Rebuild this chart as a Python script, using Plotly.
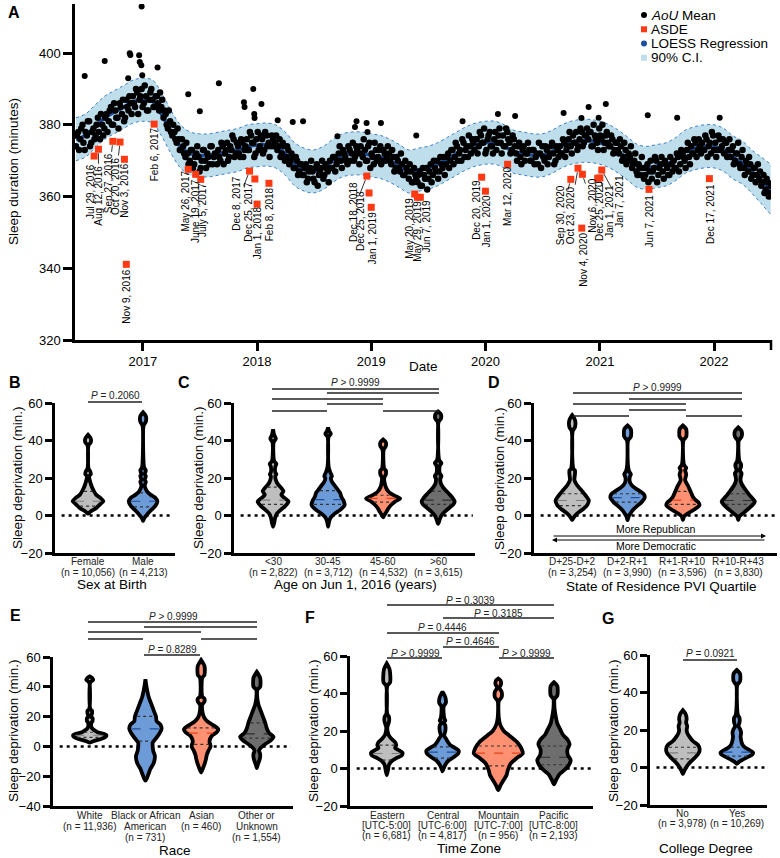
import plotly.graph_objects as go
import pandas as pd
import numpy as np

W, H = 780, 858
FONT = "Arial, Liberation Sans, sans-serif"


def X(p):
    return p / W


def Y(p):
    return 1 - p / H


# ======================= Panel A data =======================
# LOESS regression and 90% CI, monthly from Jun 2016 to Jul 2022
loess_vals = [376, 377, 379.5, 382, 383.5, 385, 386.5,
              387, 386.5, 383, 378, 374, 372, 371.5, 371.5, 372, 372.5, 373, 374,
              374.3, 374.5, 374, 372, 369, 367.5, 367, 368, 370, 371.5, 372, 372,
              371.5, 371, 370, 368.5, 367, 367.5, 368, 369, 370.5, 372, 373.5, 374.5,
              375, 375, 374, 372.5, 372, 371.5, 371.5, 372.5, 374, 375, 375.5, 375.5,
              375, 374, 372.5, 370.5, 368.5, 368, 368.5, 369, 370.5, 372.5, 373.5, 374,
              374, 373, 371, 369.5, 367, 364.5, 362]
ci_high = [382, 383, 385.5, 388, 389.5, 391, 392.5,
           393, 392.5, 389, 384, 380, 378, 377.5, 377.5, 378, 378.5, 379, 380,
           380.3, 380.5, 380, 378, 375, 373.5, 373, 374, 376, 377.5, 378, 378,
           377.5, 377, 376, 374.5, 373, 373.5, 374, 375, 376.5, 378, 379.5, 380.5,
           381, 381, 380, 378.5, 378, 377.5, 377.5, 378.5, 380, 381, 381.5, 381.5,
           381, 380, 378.5, 376.5, 374.5, 374, 374.5, 375, 376.5, 378.5, 379.5, 380,
           380, 379, 377, 375.5, 373, 371, 369]
ci_low = [370, 371, 373.5, 376, 377.5, 379, 380.5,
          381, 380.5, 377, 372, 368, 366, 365.5, 365.5, 366, 366.5, 367, 368,
          368.3, 368.5, 368, 366, 363, 361.5, 361, 362, 364, 365.5, 366, 366,
          365.5, 365, 364, 362.5, 361, 361.5, 362, 363, 364.5, 366, 367.5, 368.5,
          369, 369, 368, 366.5, 366, 365.5, 365.5, 366.5, 368, 369, 369.5, 369.5,
          369, 368, 366.5, 364.5, 362.5, 362, 362.5, 363, 364.5, 366.5, 367.5, 368,
          368, 367, 365, 363.5, 361, 358, 355]

# AoU mean sleep duration, two readings per week (from 1 Jun and 4 Jun 2016)
aou_mean_a = [
    374, 378, 376, 380, 373, 377, 381, 375, 379, 377, 382, 376, 380,
    379, 383, 381, 385, 380, 384, 382, 386, 383, 381, 387, 384, 386,
    388, 385, 389, 387, 390, 386, 388, 384, 389, 387, 385, 388, 384,
    385, 382, 383, 379, 381, 377, 378, 375, 376, 373, 374, 371, 372,
    370, 373, 369, 372, 371, 368, 373, 370, 372, 369, 374, 371, 372,
    373, 370, 374, 372, 375, 371, 373, 376, 372, 374, 371, 375, 373,
    376, 373, 377, 375, 372, 378, 374, 376, 373, 377, 375, 374, 376,
    375, 373, 376, 372, 374, 371, 373, 370, 371, 368, 370, 367, 369,
    366, 369, 365, 368, 367, 364, 369, 366, 368, 365, 369, 367, 370,
    368, 371, 369, 372, 370, 373, 371, 369, 373, 372, 370, 374, 372,
    374, 371, 373, 370, 375, 372, 369, 373, 371, 374, 370, 372, 371,
    372, 369, 371, 368, 370, 367, 369, 366, 368, 365, 367, 364, 366,
    364, 367, 363, 366, 368, 365, 369, 366, 368, 370, 367, 369, 371,
    369, 372, 370, 373, 371, 374, 372, 370, 375, 373, 371, 374, 376,
    373, 376, 374, 377, 375, 372, 376, 378, 374, 376, 373, 377, 375,
    377, 374, 378, 375, 373, 376, 372, 374, 371, 373, 370, 372, 373,
    370, 373, 371, 369, 372, 374, 370, 373, 371, 374, 372, 370, 373,
    374, 372, 375, 373, 376, 374, 377, 375, 373, 376, 378, 375, 377,
    376, 378, 374, 377, 375, 379, 376, 373, 377, 375, 374, 376, 373,
    375, 372, 374, 371, 373, 370, 371, 368, 370, 367, 369, 366, 368,
    366, 369, 367, 365, 368, 370, 366, 369, 367, 370, 368, 366, 369,
    370, 368, 371, 369, 372, 370, 373, 371, 374, 372, 375, 373, 374,
    375, 373, 376, 374, 372, 377, 375, 373, 376, 374, 372, 375, 373,
    371, 374, 370, 372, 369, 371, 368, 370, 367, 369, 366, 368, 366,
    365, 363, 366, 362, 364, 361]
aou_mean_b = [
    377, 373, 379, 375, 378, 381, 374, 378, 376, 380, 378, 383, 377,
    382, 378, 384, 380, 386, 382, 379, 385, 387, 382, 385, 388, 383,
    386, 390, 383, 388, 385, 391, 384, 387, 390, 385, 388, 386, 389,
    387, 384, 380, 384, 378, 380, 376, 379, 373, 376, 372, 375, 369,
    373, 368, 371, 374, 367, 370, 373, 368, 371, 374, 369, 372, 369,
    371, 375, 369, 373, 370, 374, 377, 371, 375, 372, 376, 371, 374,
    373, 378, 375, 371, 376, 373, 377, 372, 378, 374, 371, 377, 374,
    377, 374, 371, 375, 370, 374, 369, 372, 368, 371, 366, 369, 366,
    368, 364, 367, 370, 365, 368, 363, 367, 370, 366, 368, 364, 368,
    371, 367, 370, 374, 368, 372, 370, 374, 370, 375, 371, 373, 369,
    372, 376, 370, 374, 368, 371, 375, 370, 373, 369, 373, 370, 374,
    370, 373, 367, 371, 368, 372, 366, 370, 367, 369, 364, 368, 365,
    366, 363, 368, 365, 362, 367, 364, 370, 367, 365, 371, 368, 366,
    371, 368, 373, 369, 375, 370, 373, 376, 371, 374, 377, 372, 375,
    376, 372, 378, 375, 379, 373, 377, 374, 372, 378, 375, 379, 372,
    374, 379, 376, 372, 377, 374, 370, 375, 369, 374, 372, 375, 370,
    373, 369, 372, 375, 368, 371, 374, 369, 372, 375, 369, 374, 371,
    372, 376, 371, 374, 378, 372, 375, 378, 374, 379, 374, 377, 379,
    378, 374, 380, 376, 373, 377, 380, 375, 378, 374, 377, 372, 375,
    373, 376, 370, 375, 369, 372, 374, 369, 372, 366, 368, 371, 365,
    368, 364, 370, 367, 371, 364, 368, 371, 365, 369, 366, 371, 367,
    368, 372, 367, 373, 371, 368, 375, 369, 372, 376, 371, 376, 372,
    373, 377, 371, 375, 378, 373, 371, 377, 373, 376, 375, 371, 376,
    373, 369, 372, 375, 368, 373, 366, 369, 371, 365, 368, 364, 369,
    367, 364, 361, 365, 360, 363]

outlier_dates = ["2016-06-29", "2016-09-01", "2016-11-15", "2016-11-20", "2016-11-22",
                 "2016-12-20", "2016-12-22", "2016-12-27", "2016-12-28", "2016-12-30",
                 "2017-02-17", "2017-05-26", "2017-07-02", "2017-09-01", "2017-11-20",
                 "2017-11-22", "2017-12-20", "2017-12-23", "2017-12-24", "2018-01-15",
                 "2018-03-08", "2018-04-25", "2018-05-28", "2018-09-15", "2018-11-10",
                 "2018-11-15", "2018-12-17", "2018-12-20", "2019-02-01", "2019-05-25",
                 "2019-10-20", "2020-02-10", "2020-04-05", "2020-09-07", "2020-11-03",
                 "2020-11-26", "2020-12-28", "2021-01-20", "2021-06-03", "2021-09-05",
                 "2022-01-19"]
outlier_vals = [393.6, 397.8, 393, 400, 399.5,
                399.4, 397.5, 396.6, 413, 393.8,
                396, 388.5, 383.8, 391.6, 386.3,
                385, 390, 383, 381.9, 385.8,
                381.3, 380.8, 381, 376.8, 379.4,
                381, 380.5, 378, 380.5, 377,
                381, 383, 382.5, 383.3, 381.9,
                385, 382, 385.8, 382.7, 382,
                382]

asde_dates = ["2016-07-29", "2016-08-12", "2016-09-27", "2016-10-20", "2016-11-03",
              "2016-11-09", "2017-02-06", "2017-05-26", "2017-06-19", "2017-07-05",
              "2017-12-08", "2017-12-25", "2018-01-01", "2018-02-08", "2018-12-18",
              "2018-12-25", "2019-01-01", "2019-05-20", "2019-05-29", "2019-06-07",
              "2019-12-20", "2020-01-01", "2020-03-12", "2020-09-30", "2020-10-23",
              "2020-11-04", "2020-11-06", "2020-12-25", "2021-01-01", "2021-01-07",
              "2021-06-07", "2021-12-17"]
asde_vals = [371.3, 373.2, 375.4, 375.2, 370.4,
             341.1, 380.2, 367.6, 366.2, 364.8,
             367.1, 364.9, 357.9, 363.7, 365.7,
             361.0, 357.0, 360.7, 359.8, 359.8,
             365.4, 361.5, 369.0, 364.8, 367.9,
             351.2, 366.2, 365.1, 365.2, 367.4,
             362.0, 365.0]
asde_labels = ["Jul 29, 2016", "Aug 12, 2016", "Sep 27, 2016", "Oct 20, 2016", "Nov 3, 2016",
               "Nov 9, 2016", "Feb 6, 2017", "May 26, 2017", "June 19, 2017", "July 5, 2017",
               "Dec 8, 2017", "Dec 25, 2017", "Jan 1, 2018", "Feb 8, 2018", "Dec 18, 2018",
               "Dec 25, 2018", "Jan 1, 2019", "May 20, 2019", "May 29, 2019", "Jun 7, 2019",
               "Dec 20, 2019", "Jan 1, 2020", "Mar 12, 2020", "Sep 30, 2020", "Oct 23, 2020",
               "Nov 4, 2020", "Nov 6, 2020", "Dec 25, 2020", "Jan 1, 2021", "Jan 7, 2021",
               "Jun 7, 2021", "Dec 17, 2021"]
# label placement (pixel offset of label centre from its square, leader line flag)
asde_label_style = [(-4, 36, 0), (0, 46, 1), (-5, 42, 1), (-5, 44, 1), (0, 31, 0),
                    (0, 32, 0), (0, 30, 0), (-3, 32, 0), (0, 37, 0), (2, 31, 0),
                    (-13, 33, 1), (-6, 33, 0), (0, 29, 0), (0, 31, 0), (-14, 36, 1),
                    (-8, 28, 1), (1, 31, 0), (-6, 34, 0), (0, 34, 0), (6, 29, 0),
                    (-5, 33, 0), (1, 30, 0), (0, 32, 0), (-10, 36, 1), (-8, 47, 1),
                    (1, 32, 0), (10, 31, 1), (2, 33, 0), (10, 33, 1), (17, 31, 1),
                    (0, 32, 0), (1, 35, 0)]

year_ticks = ["2017-01-01", "2018-01-01", "2019-01-01", "2020-01-01", "2021-01-01", "2022-01-01"]
year_labels = ["2017", "2018", "2019", "2020", "2021", "2022"]
a_yticks = [320, 340, 360, 380, 400]

# ======================= Violin panels data =======================
# each profile: (sleep deprivation level, half-width in category units)
female_prof = [(1, 0), (2, 0.04), (4, 0.15), (6, 0.22), (7.6, 0.28), (9.5, 0.22), (11, 0.15),
               (14, 0.09), (16, 0.06), (19, 0.03), (21, 0.02), (22, 0.05), (23.5, 0.04),
               (25, 0.01), (37.5, 0.01), (39, 0.05), (41, 0.05), (43, 0)]
male_prof = [(-3, 0), (-1.5, 0.02), (0, 0.06), (1.5, 0.1), (3, 0.15), (5, 0.22), (7.5, 0.26),
             (9.5, 0.22), (11, 0.14), (12.5, 0.08), (14, 0.05), (16, 0.03), (18, 0.05),
             (19, 0.03), (21, 0.05), (22, 0.03), (24, 0.05), (25.5, 0.02), (28, 0.01),
             (48, 0.01), (50, 0.05), (53, 0.05), (55, 0)]
c_lt30_prof = [(-6, 0), (-4, 0.02), (-1, 0.04), (1, 0.07), (3, 0.14), (5, 0.22), (7.5, 0.28),
               (9.5, 0.2), (11, 0.15), (13, 0.19), (15, 0.14), (17, 0.08), (19, 0.05),
               (21, 0.04), (22, 0.06), (23, 0.04), (26, 0.04), (27.5, 0.06), (29, 0.02),
               (39, 0.01), (41, 0.05), (43, 0.02), (46, 0)]
c_3045_prof = [(-6, 0), (-3, 0.02), (-1, 0.05), (1, 0.12), (3, 0.22), (5.5, 0.3), (8, 0.28),
               (10, 0.24), (12, 0.22), (14, 0.17), (16, 0.12), (18, 0.07), (20, 0.05),
               (21, 0.07), (23, 0.04), (26, 0.01), (42, 0.01), (43.5, 0.05), (45, 0.02), (47, 0)]
c_4560_prof = [(-1, 0), (0.5, 0.03), (2, 0.06), (4, 0.1), (6, 0.16), (7.5, 0.22), (9, 0.31),
               (10, 0.25), (11.5, 0.15), (13, 0.09), (15, 0.05), (17, 0.03), (20, 0.02),
               (22, 0.05), (24, 0.05), (25, 0.02), (35, 0.01), (37, 0.05), (39, 0.05), (40.5, 0)]
c_gt60_prof = [(-4.5, 0), (-2, 0.03), (0, 0.06), (2, 0.12), (4, 0.2), (6, 0.28), (7.5, 0.3),
               (9.5, 0.26), (11.5, 0.2), (13, 0.15), (15, 0.09), (17, 0.05), (19.5, 0.04),
               (21, 0.06), (22.5, 0.03), (26.5, 0.03), (28, 0.06), (29.5, 0.02), (50, 0.01),
               (51.5, 0.05), (54, 0.05), (55.5, 0)]
d_q1_prof = [(-2.5, 0), (-1, 0.03), (0.5, 0.07), (2, 0.13), (3.5, 0.2), (5.5, 0.27), (8, 0.3),
             (10, 0.26), (11.5, 0.22), (13, 0.18), (15, 0.12), (17, 0.07), (19, 0.04),
             (22, 0.05), (24, 0.05), (25, 0.02), (45, 0.01), (47, 0.05), (51, 0.05), (53.5, 0)]
d_q2_prof = [(-2.5, 0), (-0.5, 0.02), (1, 0.05), (3, 0.1), (5, 0.17), (7, 0.25), (9.5, 0.31),
             (11.5, 0.29), (13, 0.22), (14.5, 0.14), (16, 0.08), (18, 0.04), (20.5, 0.04),
             (22, 0.06), (23.5, 0.03), (26, 0.01), (40, 0.01), (42, 0.06), (46, 0.06), (48, 0)]
d_q3_prof = [(-2.5, 0), (-0.5, 0.02), (0.5, 0.06), (2, 0.14), (3.5, 0.22), (5.5, 0.3), (7, 0.28),
             (8.5, 0.22), (10, 0.18), (12, 0.15), (14, 0.12), (16, 0.09), (17.5, 0.06),
             (19, 0.04), (20.5, 0.05), (22, 0.06), (24, 0.04), (25.5, 0.06), (27, 0.02),
             (40, 0.01), (42, 0.06), (46, 0.06), (48, 0)]
d_q4_prof = [(-2.5, 0), (-0.5, 0.02), (0.5, 0.06), (2, 0.12), (4, 0.2), (6, 0.27), (7.5, 0.3),
             (9, 0.26), (11, 0.2), (13, 0.15), (15, 0.1), (17, 0.06), (19, 0.04), (21, 0.05),
             (22.5, 0.06), (24, 0.03), (26, 0.05), (27.5, 0.05), (29, 0.02), (40, 0.01),
             (42, 0.06), (45, 0.06), (47, 0)]
e_white_prof = [(2.5, 0), (3.5, 0.06), (5, 0.2), (6.5, 0.29), (7.5, 0.3), (8.5, 0.25),
                (9.5, 0.14), (10.5, 0.1), (11.5, 0.06), (13, 0.03), (16, 0.03), (17, 0.05),
                (19, 0.05), (20, 0.02), (22, 0.04), (24, 0.04), (25, 0.01), (43, 0.01),
                (44.5, 0.06), (46, 0.04), (47, 0)]
e_black_prof = [(-23, 0), (-21, 0.03), (-18, 0.06), (-15, 0.09), (-11, 0.15), (-6.5, 0.17),
                (-3, 0.14), (0, 0.13), (2.5, 0.13), (5, 0.18), (8, 0.24), (12, 0.29),
                (14.5, 0.27), (17, 0.2), (20, 0.19), (24, 0.15), (29, 0.1), (33, 0.06),
                (37, 0.035), (41, 0.015), (45, 0)]
e_asian_prof = [(-17.5, 0), (-15, 0.03), (-12, 0.06), (-8, 0.09), (-6, 0.1), (-3, 0.13),
                (0, 0.17), (3.5, 0.15), (7, 0.19), (9.5, 0.28), (11.5, 0.31), (13.5, 0.25),
                (16.5, 0.12), (19, 0.06), (22, 0.03), (28, 0.02), (30, 0.06), (32, 0.06),
                (33.5, 0.02), (46, 0.02), (48, 0.06), (54, 0.06), (58, 0)]
e_other_prof = [(-14.5, 0), (-12, 0.02), (-9, 0.05), (-7, 0.06), (-5, 0.06), (-3, 0.04),
                (-1, 0.07), (1.5, 0.15), (4, 0.25), (6.5, 0.3), (9, 0.22), (12, 0.18),
                (16, 0.15), (20, 0.11), (24, 0.07), (28, 0.03), (32, 0.01), (38, 0.01),
                (40, 0.06), (46, 0.06), (50, 0)]
f_east_prof = [(-3.5, 0), (-1, 0.02), (2, 0.04), (4, 0.09), (5.5, 0.17), (7, 0.27), (8.5, 0.28),
               (10, 0.2), (11, 0.15), (12.5, 0.17), (14, 0.15), (16, 0.08), (18, 0.03),
               (22, 0.01), (25, 0.04), (27.5, 0.04), (29, 0.01), (44, 0.01), (46, 0.06),
               (53, 0.05), (56, 0)]
f_central_prof = [(-1.5, 0), (0, 0.02), (2, 0.05), (4, 0.1), (6, 0.2), (8, 0.28), (9.5, 0.29),
                  (11, 0.22), (12.5, 0.14), (14, 0.1), (16, 0.06), (17.5, 0.03), (20, 0.05),
                  (23, 0.05), (24.5, 0.02), (25.5, 0.05), (27, 0.03), (33, 0.02), (35, 0.06),
                  (38, 0.05), (41, 0)]
f_mountain_prof = [(-11.5, 0), (-9, 0.04), (-6, 0.1), (-3.5, 0.15), (-1, 0.17), (2.5, 0.22),
                   (5.5, 0.33), (8, 0.44), (11, 0.41), (14, 0.34), (17.5, 0.2), (20, 0.1),
                   (23, 0.04), (27, 0.01), (36, 0.01), (38, 0.06), (41, 0.06), (43, 0.02),
                   (45, 0.05), (47, 0.04), (48, 0)]
f_pacific_prof = [(-8.5, 0), (-6, 0.04), (-3, 0.1), (-0.5, 0.2), (2, 0.27), (4.5, 0.3), (7, 0.25),
                  (10, 0.24), (13, 0.28), (15.5, 0.24), (18, 0.16), (21, 0.11), (24, 0.06),
                  (28, 0.03), (32, 0.01), (37, 0.01), (39, 0.06), (44, 0.06), (46, 0)]
g_no_prof = [(-3.5, 0), (-1.5, 0.03), (0.5, 0.07), (3, 0.14), (5.5, 0.23), (8, 0.3), (10, 0.31),
             (12, 0.28), (14, 0.19), (16.5, 0.12), (18.5, 0.08), (20, 0.07), (22, 0.08),
             (24, 0.06), (26, 0.07), (28.5, 0.05), (30.5, 0)]
g_yes_prof = [(2, 0), (3, 0.04), (4, 0.1), (5.5, 0.2), (7, 0.29), (8, 0.3), (9.5, 0.22), (11, 0.14),
              (12.5, 0.1), (14.5, 0.08), (16.5, 0.07), (18.5, 0.08), (20.5, 0.06), (22, 0.03),
              (24, 0.05), (26.5, 0.05), (28, 0.02), (44, 0.01), (46, 0.06), (50, 0.06), (52, 0)]

# quartiles (Q1, median, Q3)
female_q = (5.0, 7.6, 12.9)
male_q = (4.6, 7.6, 12.1)
c_q = [(5.9, 8.2, 15.1), (5.9, 8.5, 13.3), (7.1, 9.1, 10.8), (5.9, 8.2, 12.9)]
d_q = [(5.3, 8.0, 11.6), (7.1, 9.5, 11.6), (5.9, 8.2, 12.9), (5.9, 8.0, 11.6)]
e_q = [(6.0, 7.5, 9.5), (3.6, 11.8, 20.2), (1.3, 8.9, 12.4), (5.6, 8.4, 15.8)]
f_q = [(4.5, 8.0, 12.5), (5.5, 8.7, 11.5), (1.4, 8.2, 12.0), (2.0, 6.0, 12.0)]
g_q = [(4.6, 7.8, 10.8), (6.1, 8.2, 10.8)]

b_cats = [["Female", "(n = 10,056)"], ["Male", "(n = 4,213)"]]
c_cats = [["<30", "(n = 2,822)"], ["30-45", "(n = 3,712)"], ["45-60", "(n = 4,532)"],
          [">60", "(n = 3,615)"]]
d_cats = [["D+25-D+2", "(n = 3,254)"], ["D+2-R+1", "(n = 3,990)"], ["R+1-R+10", "(n = 3,596)"],
          ["R+10-R+43", "(n = 3,830)"]]
e_cats = [["White", "(n = 11,936)"], ["Black or African", "American", "(n = 731)"],
          ["Asian", "(n = 460)"], ["Other or", "Unknown", "(n = 1,554)"]]
f_cats = [["Eastern", "[UTC-5:00]", "(n = 6,681)"], ["Central", "[UTC-6:00]", "(n = 4,817)"],
          ["Mountain", "[UTC-7:00]", "(n = 956)"], ["Pacific", "[UTC-8:00]", "(n = 2,193)"]]
g_cats = [["No", "(n = 3,978)"], ["Yes", "(n = 10,269)"]]

# ======================= Styles =======================
GREY, BLUE, SALMON, DARK = "#BEBEBE", "#6C9BD8", "#FF9072", "#6E6E6E"
MED = {GREY: "#7D7D7D", BLUE: "#1F4E9E", SALMON: "#E8401A", DARK: "#2E2E2E"}
FOUR = [GREY, BLUE, SALMON, DARK]

fig = go.Figure()

# ---------------- Panel A ----------------
dates_m = pd.date_range("2016-06-01", periods=len(loess_vals), freq="MS")
dates_a = pd.date_range("2016-06-01", periods=len(aou_mean_a), freq="7D")
dates_b = pd.date_range("2016-06-04", periods=len(aou_mean_b), freq="7D")

fig.add_trace(go.Scatter(x=dates_m, y=ci_high, mode="lines",
                         line=dict(color="#3E80C4", width=1, dash="dot", shape="spline"),
                         xaxis="x", yaxis="y", hoverinfo="skip"))
fig.add_trace(go.Scatter(x=dates_m, y=ci_low, mode="lines", fill="tonexty", fillcolor="#BFDEEC",
                         line=dict(color="#3E80C4", width=1, dash="dot", shape="spline"),
                         xaxis="x", yaxis="y", hoverinfo="skip"))
fig.add_trace(go.Scatter(x=dates_m, y=loess_vals, mode="lines",
                         line=dict(color="#1C4F9E", width=3.5, shape="spline"),
                         xaxis="x", yaxis="y", hoverinfo="skip"))
for dd, vv in ((dates_a, aou_mean_a), (dates_b, aou_mean_b)):
    fig.add_trace(go.Scatter(x=dd, y=vv, mode="markers",
                             marker=dict(color="black", size=6.5, line=dict(width=0)),
                             xaxis="x", yaxis="y"))
fig.add_trace(go.Scatter(x=outlier_dates, y=outlier_vals, mode="markers",
                         marker=dict(color="black", size=6, line=dict(width=0)),
                         xaxis="x", yaxis="y"))
fig.add_trace(go.Scatter(x=asde_dates, y=asde_vals, mode="markers",
                         marker=dict(color="#FF3A12", size=7, symbol="square", line=dict(width=0)),
                         xaxis="x", yaxis="y"))

annotations = []
shapes = []

for d, v, lab, (dx, dy, lead) in zip(asde_dates, asde_vals, asde_labels, asde_label_style):
    annotations.append(dict(x=d, y=v, xref="x", yref="y", text=lab, textangle=-90,
                            showarrow=True, ax=dx, ay=dy, arrowhead=0, arrowwidth=0.8,
                            arrowcolor="black" if lead else "rgba(0,0,0,0)", standoff=4,
                            font=dict(size=10, color="black")))


def ptext(xx, yy, t, size, color="black", angle=0, xanchor="center"):
    """Text placed at a pixel position of the page (paper coordinates)."""
    annotations.append(dict(x=X(xx), y=Y(yy), xref="paper", yref="paper", text=t, showarrow=False,
                            xanchor=xanchor, yanchor="middle", textangle=angle, borderpad=0,
                            font=dict(size=size, color=color)))


# ---------------- violin helper ----------------
def add_violin(xa, ya, pos, prof, fill, quart):
    ys = [p[0] for p in prof]
    ws = [p[1] for p in prof]
    xs_out = [pos + w for w in ws] + [pos - w for w in ws[::-1]]
    ys_out = ys + ys[::-1]
    fig.add_trace(go.Scatter(x=xs_out, y=ys_out, mode="lines", fill="toself", fillcolor=fill,
                             line=dict(color="black", width=3.8, shape="spline", smoothing=0.7),
                             xaxis=xa, yaxis=ya, hoverinfo="skip"))
    for i, q in enumerate(quart):
        w = max(float(np.interp(q, ys, ws)) - 0.04, 0.01)
        fig.add_trace(go.Scatter(x=[pos - w, pos + w], y=[q, q], mode="lines",
                                 line=dict(color=MED[fill] if i == 1 else "#333333", width=1.2,
                                           dash="dash" if i == 1 else "dot"),
                                 xaxis=xa, yaxis=ya, hoverinfo="skip"))


panels = [
    # id, x px span, y px span, x range, y range, yticks, cats, label rows (px), profiles, quartiles, colors
    ("2", (55, 175), (403, 553), [-0.6, 1.58], [-20, 60], [-20, 0, 20, 40, 60], b_cats, (561, 11),
     [female_prof, male_prof], [female_q, male_q], [GREY, BLUE]),
    ("3", (234, 475), (403, 553), [-0.71, 3.67], [-20, 60], [-20, 0, 20, 40, 60], c_cats, (561, 11),
     [c_lt30_prof, c_3045_prof, c_4560_prof, c_gt60_prof], c_q, FOUR),
    ("4", (534, 777), (403, 553), [-0.69, 3.70], [-20, 60], [-20, 0, 20, 40, 60], d_cats, (561.5, 10.5),
     [d_q1_prof, d_q2_prof, d_q3_prof, d_q4_prof], d_q, FOUR),
    ("5", (53, 293), (657, 806), [-0.66, 3.65], [-40, 60], [-40, -20, 0, 20, 40, 60], e_cats, (815, 11),
     [e_white_prof, e_black_prof, e_asian_prof, e_other_prof], e_q, FOUR),
    ("6", (350, 593), (656, 806), [-0.66, 3.70], [-20, 60], [-20, 0, 20, 40, 60], f_cats, (815, 10.3),
     [f_east_prof, f_central_prof, f_mountain_prof, f_pacific_prof], f_q, FOUR),
    ("7", (650, 767), (655, 805), [-0.61, 1.56], [-20, 60], [-20, 0, 20, 40, 60], g_cats, (813, 10),
     [g_no_prof, g_yes_prof], g_q, [GREY, BLUE]),
]

layout = dict(width=W, height=H, margin=dict(l=0, r=0, t=0, b=0, autoexpand=False),
              paper_bgcolor="white", plot_bgcolor="white", showlegend=False,
              font=dict(family=FONT, color="black"))

axis_common = dict(showline=True, linewidth=2.5, linecolor="black", showgrid=False,
                   zeroline=False, tickcolor="black", automargin=False)

layout["xaxis"] = dict(axis_common, domain=[X(75), X(771)], anchor="y", type="date",
                       range=["2016-05-29", "2022-07-02"], tickvals=year_ticks,
                       ticktext=year_labels, ticks="outside", ticklen=8, tickwidth=2.5,
                       tickangle=0, tickfont=dict(size=13))
layout["yaxis"] = dict(axis_common, domain=[Y(340), Y(4)], anchor="x", range=[320, 413.7],
                       tickvals=a_yticks, ticks="outside", ticklen=9, tickwidth=2.5,
                       tickfont=dict(size=13))

for pid, xs, ysp, xr, yr, yt, cats, (row0, rowh), profs, qs, cols in panels:
    xa, ya = "x" + pid, "y" + pid
    layout["xaxis" + pid] = dict(axis_common, domain=[X(xs[0]), X(xs[1])], anchor=ya, range=xr,
                                 showticklabels=False, ticks="")
    layout["yaxis" + pid] = dict(axis_common, domain=[Y(ysp[1]), Y(ysp[0])], anchor=xa, range=yr,
                                 tickvals=yt, ticks="outside", ticklen=7, tickwidth=2.5,
                                 tickfont=dict(size=13))
    shapes.append(dict(type="line", xref=xa, yref=ya, x0=xr[0] + 0.12, x1=xr[1] - 0.04, y0=0, y1=0,
                       line=dict(color="black", width=2.5, dash="3px,4px"), layer="below"))
    for i, (prof, q, c) in enumerate(zip(profs, qs, cols)):
        add_violin(xa, ya, i, prof, c, q)
    for i, lines in enumerate(cats):
        for k, t in enumerate(lines):
            annotations.append(dict(x=i, y=Y(row0 + k * rowh), xref=xa, yref="paper", text=t,
                                    showarrow=False, xanchor="center", yanchor="middle", borderpad=0,
                                    font=dict(size=10, color="#222222")))

# end tick of panel A x axis
shapes.append(dict(type="line", xref="paper", yref="paper", x0=X(771), x1=X(771), y0=Y(340), y1=Y(350),
                   line=dict(color="black", width=2.5)))

# ---------------- significance bars ----------------
sig_lines = [
    (402, 88, 142),
    (389, 272, 439), (393, 327, 439), (399, 272, 383), (404, 327, 383), (411, 272, 327), (411, 383, 439),
    (393, 573, 742), (399, 629, 742), (404, 573, 686), (410, 629, 686), (416, 573, 629), (416, 686, 742),
    (622, 88, 257), (627, 144, 257), (632, 88, 201), (639, 88, 143), (639, 201, 257), (655, 144, 200),
    (605, 387, 554), (618, 443, 554), (633, 387, 499), (647, 443, 499), (658, 387, 442), (658, 499, 554),
    (660, 683, 737),
]
for yy, x0, x1 in sig_lines:
    shapes.append(dict(type="line", xref="paper", yref="paper", x0=X(x0), x1=X(x1), y0=Y(yy), y1=Y(yy),
                       line=dict(color="#222222", width=1.3)))

sig_texts = [
    (115, 395, "<i>P</i> = 0.2060"), (355, 383, "<i>P</i> > 0.9999"), (657, 387, "<i>P</i> > 0.9999"),
    (173, 616, "<i>P</i> > 0.9999"), (172, 649, "<i>P</i> = 0.8289"),
    (470, 600, "<i>P</i> = 0.3039"), (499, 613, "<i>P</i> = 0.3185"), (442, 627, "<i>P</i> = 0.4446"),
    (470, 641, "<i>P</i> = 0.4646"), (415, 653, "<i>P</i> > 0.9999"), (526, 653, "<i>P</i> > 0.9999"),
    (710, 653, "<i>P</i> = 0.0921"),
]
for xx, yy, t in sig_texts:
    ptext(xx, yy, t, 10, "#222222")

# ---------------- D arrows ----------------
annotations.append(dict(x=X(766), y=Y(536), xref="paper", yref="paper", ax=-(766 - 552), ay=0,
                        text="", showarrow=True, arrowhead=2,
                        arrowsize=1, arrowwidth=1, arrowcolor="black"))
annotations.append(dict(x=X(552), y=Y(540), xref="paper", yref="paper", ax=(766 - 552), ay=0,
                        text="", showarrow=True, arrowhead=2,
                        arrowsize=1, arrowwidth=1, arrowcolor="black"))
ptext(656, 529, "More Republican", 10.5)
ptext(656, 546, "More Democratic", 10.5)

# ---------------- axis titles ----------------
x_titles = [(424, 366, "Date"), (112, 584, "Sex at Birth"), (355, 584, "Age on Jun 1, 2016 (years)"),
            (661, 586, "State of Residence PVI Quartile"), (175, 850, "Race"), (469, 848, "Time Zone"),
            (706, 848, "College Degree")]
for xx, yy, t in x_titles:
    ptext(xx, yy, t, 13.5)
y_titles = [(13, 172, "Sleep duration (minutes)"), (17, 478, "Sleep deprivation (min.)"),
            (198, 478, "Sleep deprivation (min.)"), (499, 478, "Sleep deprivation (min.)"),
            (13, 731, "Sleep deprivation (min.)"), (313, 731, "Sleep deprivation (min.)"),
            (613, 731, "Sleep deprivation (min.)")]
for xx, yy, t in y_titles:
    ptext(xx, yy, t, 13.5, angle=-90)

# ---------------- panel letters ----------------
for xx, yy, t in [(14, 13, "A"), (15, 382, "B"), (184, 382, "C"), (494, 382, "D"),
                  (15, 615, "E"), (310, 617, "F"), (608, 618, "G")]:
    ptext(xx, yy, "<b>%s</b>" % t, 16)

# ---------------- legend for A ----------------
legend_items = [(15, "circle", "black", "<i>AoU</i> Mean"), (29.3, "square", "#FF3A12", "ASDE"),
                (43.4, "circle", "#1C4F9E", "LOESS Regression"), (57.8, "square", "#BFDEEC", "90% C.I.")]
for yy, kind, col, t in legend_items:
    shapes.append(dict(type="circle" if kind == "circle" else "rect", xref="paper", yref="paper",
                       x0=X(641), x1=X(647), y0=Y(yy + 3), y1=Y(yy - 3), fillcolor=col,
                       line=dict(width=0)))
    ptext(650, yy, t, 13.5, xanchor="left")

layout["annotations"] = annotations
layout["shapes"] = shapes
fig.update_layout(**layout)
fig.write_html("out.html")
